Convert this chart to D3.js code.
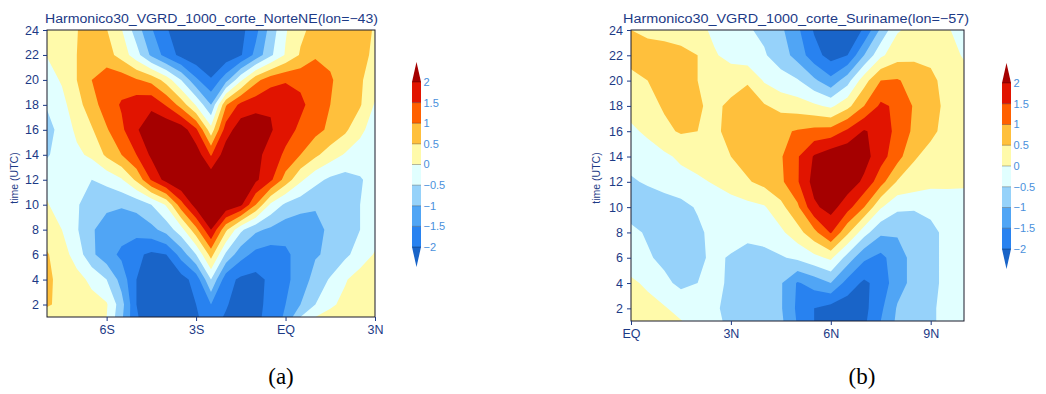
<!DOCTYPE html>
<html>
<head>
<meta charset="utf-8">
<script src="https://cdn.jsdelivr.net/npm/d3@7"></script>
<style>
  body { margin: 0; background: #ffffff; }
  svg { display: block; }
</style>
</head>
<body>
<svg id="chart" width="1046" height="394"></svg>
<script>
// Shading levels (m/s) and the colour of each band between them
const levels = [-2, -1.5, -1, -0.5, 0, 0.5, 1, 1.5, 2];
const levelLabels = ["\u22122", "\u22121.5", "\u22121", "\u22120.5", "0", "0.5", "1", "1.5", "2"];
const fills = ["#1964c8", "#2882f0", "#50a5f5", "#96d2fa", "#e1ffff",
               "#fffaaa", "#ffc03c", "#ff6000", "#e11400", "#a50000"];

// Time rows of the Hovmoller grids (UTC) and the axis ticks
const hours = [1, 2, 4, 6, 8, 10, 12, 14, 16, 18, 20, 22, 24];
const hourTicks = [2, 4, 6, 8, 10, 12, 14, 16, 18, 20, 22, 24];

// Latitude columns (degrees, negative = south)
const latsNorteNE = [-8, -7.5, -7, -6.5, -6, -5.5, -5, -4.5, -4, -3.5, -3, -2.5,
                     -2, -1.5, -1, -0.5, 0, 0.5, 1, 1.5, 2, 2.5, 3];
const latsSuriname = [0, 0.5, 1, 1.5, 2, 2.5, 3, 3.5, 4, 4.5, 5, 5.5,
                      6, 6.5, 7, 7.5, 8, 8.5, 9, 9.5, 10];

const latTicksNorteNE = [-6, -3, 0, 3];
const latLabelsNorteNE = ["6S", "3S", "EQ", "3N"];
const latTicksSuriname = [0, 3, 6, 9];
const latLabelsSuriname = ["EQ", "3N", "6N", "9N"];

// Harmonic of V wind at 1000 hPa, lon = -43 (one row per hour in `hours`)
const vgrdNorteNE = [
  [0.3, 0.35, 0.3, 0.2, 0.0, -0.9, -1.95, -2.3, -2.4, -2.3, -2.05, -1.8, -2.05, -2.3, -2.2, -1.7, -1.45, -0.5, 0.0, 0.2, 0.3, 0.35, 0.4],
  [0.55, 0.4, 0.3, 0.15, 0.05, -0.8, -2.0, -2.3, -2.4, -2.3, -2.0, -1.5, -1.95, -2.25, -2.2, -1.8, -1.5, -1.0, -0.5, -0.1, 0.15, 0.3, 0.4],
  [0.6, 0.35, 0.15, -0.1, -0.5, -1.2, -2.0, -2.3, -2.35, -2.2, -1.8, -0.5, -1.8, -2.1, -2.15, -1.9, -1.6, -1.3, -0.8, -0.45, -0.05, 0.25, 0.4],
  [0.55, 0.2, -0.2, -0.9, -1.3, -1.6, -1.9, -2.1, -2.0, -1.3, -0.5, 0.7, -0.6, -1.3, -1.65, -1.75, -1.6, -1.3, -1.05, -0.9, -0.6, -0.3, 0.05],
  [0.2, 0.0, -0.45, -0.95, -1.2, -1.3, -1.3, -1.15, -0.8, -0.2, 0.85, 2.0, 0.6, -0.4, -0.9, -1.1, -1.3, -1.35, -1.15, -0.9, -0.75, -0.5, -0.3],
  [0.05, -0.3, -0.45, -0.75, -0.9, -0.95, -0.85, -0.5, 0.05, 1.3, 2.25, 2.5, 2.45, 2.1, 1.0, -0.1, -0.6, -0.8, -0.95, -0.95, -0.85, -0.5, -0.35],
  [-0.2, -0.3, -0.4, -0.5, -0.35, -0.05, 0.6, 1.55, 2.2, 2.55, 2.6, 2.4, 2.5, 2.4, 2.1, 1.6, 0.8, 0.1, -0.35, -0.6, -0.7, -0.55, -0.3],
  [-0.55, -0.3, -0.1, 0.1, 0.6, 1.0, 1.5, 2.1, 2.5, 2.6, 2.3, 1.45, 2.3, 2.4, 2.15, 1.8, 1.4, 1.0, 0.6, 0.25, -0.05, -0.2, -0.3],
  [-0.7, -0.3, 0.1, 0.45, 0.95, 1.4, 1.95, 2.3, 2.45, 2.3, 1.6, 0.2, 1.75, 2.3, 2.3, 2.05, 1.7, 1.4, 1.15, 0.9, 0.6, 0.1, -0.2],
  [-0.45, -0.15, 0.3, 0.8, 1.25, 1.55, 1.8, 1.9, 1.45, 0.8, -0.05, -1.0, 0.95, 1.65, 1.85, 1.95, 1.85, 1.6, 1.3, 1.0, 0.75, 0.55, -0.05],
  [-0.2, 0.05, 0.5, 1.0, 1.3, 1.3, 1.05, 0.85, 0.3, -0.5, -1.4, -1.95, -1.2, -0.1, 0.85, 1.3, 1.45, 1.4, 1.25, 1.05, 0.8, 0.55, 0.3],
  [0.02, 0.3, 0.5, 0.8, 0.7, 0.3, -0.3, -1.1, -1.7, -2.15, -2.4, -2.5, -2.35, -2.05, -1.35, -0.6, 0.05, 0.55, 0.95, 0.9, 0.85, 0.65, 0.4],
  [0.25, 0.4, 0.48, 0.75, 0.52, 0.03, -0.75, -1.45, -1.95, -2.3, -2.5, -2.6, -2.45, -2.15, -1.65, -0.8, -0.05, 0.4, 0.65, 0.8, 0.85, 0.7, 0.45]
];

// Harmonic of V wind at 1000 hPa, lon = -57 (one row per hour in `hours`)
const vgrdSuriname = [
  [0.3, 0.2, 0.1, 0.02, -0.2, -0.4, -0.6, -0.75, -0.8, -0.9, -1.55, -2.0, -2.2, -2.25, -2.1, -1.5, -0.9, -0.7, -0.55, -0.4, -0.3],
  [0.3, 0.2, 0.05, -0.2, -0.35, -0.45, -0.6, -0.75, -0.8, -0.95, -1.6, -2.0, -2.2, -2.3, -2.15, -1.6, -0.95, -0.75, -0.55, -0.4, -0.3],
  [0.1, -0.1, -0.4, -0.6, -0.5, -0.35, -0.6, -0.75, -0.85, -0.95, -1.55, -1.3, -1.0, -1.7, -2.1, -1.8, -1.2, -0.85, -0.6, -0.4, -0.3],
  [-0.3, -0.45, -0.6, -0.75, -0.6, -0.4, -0.55, -0.7, -0.65, -0.55, -0.4, -0.15, 0.1, -0.7, -1.4, -1.65, -1.2, -0.85, -0.6, -0.4, -0.25],
  [-0.4, -0.55, -0.7, -0.75, -0.6, -0.35, -0.25, -0.35, -0.3, -0.1, 0.3, 0.85, 1.55, 0.6, -0.3, -0.9, -0.95, -0.8, -0.6, -0.4, -0.25],
  [-0.7, -0.75, -0.75, -0.65, -0.45, -0.35, -0.25, -0.15, -0.05, 0.35, 0.9, 1.9, 2.2, 1.7, 1.0, 0.05, -0.4, -0.45, -0.4, -0.25, -0.15],
  [-0.55, -0.45, -0.3, -0.2, -0.1, 0.05, 0.25, 0.45, 0.65, 0.9, 1.45, 2.2, 2.5, 2.3, 1.9, 1.2, 0.45, 0.3, 0.15, 0.1, 0.05],
  [-0.35, -0.25, -0.1, 0.1, 0.25, 0.35, 0.5, 0.7, 0.85, 0.95, 1.45, 2.05, 2.35, 2.45, 2.2, 1.7, 1.2, 0.55, 0.35, 0.25, 0.2],
  [-0.1, 0.1, 0.4, 0.55, 0.5, 0.4, 0.65, 0.8, 0.85, 0.9, 1.05, 1.15, 1.2, 1.6, 2.05, 1.8, 1.35, 0.9, 0.6, 0.35, 0.25],
  [0.2, 0.35, 0.55, 0.7, 0.55, 0.4, 0.6, 0.75, 0.55, 0.35, 0.25, 0.1, -0.1, 0.35, 1.0, 1.6, 1.4, 0.95, 0.65, 0.4, 0.25],
  [0.3, 0.5, 0.75, 0.7, 0.5, 0.3, 0.3, 0.45, -0.05, -0.3, -0.45, -0.9, -1.35, -0.7, 0.3, 1.0, 1.05, 0.8, 0.6, 0.35, 0.2],
  [0.75, 0.8, 0.75, 0.65, 0.5, 0.05, -0.15, -0.3, -0.45, -0.75, -1.2, -1.8, -2.2, -2.0, -1.0, -0.1, 0.3, 0.4, 0.4, 0.2, -0.05],
  [0.5, 0.35, 0.3, 0.25, 0.15, -0.1, -0.25, -0.45, -0.6, -0.9, -1.4, -2.05, -2.4, -2.3, -1.95, -0.9, -0.05, 0.15, 0.2, 0.05, -0.2]
];

const navy = "#1c3a86";
const cbText = "#4a90dc";
const sans = "'Liberation Sans', Arial, sans-serif";
const svg = d3.select("#chart");

function drawPanel(p) {
  const g = svg.append("g");
  const n = p.lats.length, m = hours.length;
  const x = d3.scaleLinear().domain(d3.extent(p.lats)).range([p.left, p.right]);
  const y = d3.scaleLinear().domain(d3.extent(hours)).range([p.bottom, p.top]);

  // grid index -> data coordinate (d3.contours puts samples at cell centres)
  const latAt = d3.scaleLinear().domain([0, n - 1]).range(d3.extent(p.lats)).clamp(true);
  const hourAt = d3.scaleLinear().domain(d3.range(m)).range(hours).clamp(true);
  const path = d3.geoPath(d3.geoTransform({
    point(gx, gy) { this.stream.point(x(latAt(gx - 0.5)), y(hourAt(gy - 0.5))); }
  }));
  const bands = d3.contours().size([n, m]).thresholds(levels)(p.values.flat());

  g.append("clipPath").attr("id", "clip-" + p.id)
    .append("rect")
    .attr("x", p.left).attr("y", p.top)
    .attr("width", p.right - p.left).attr("height", p.bottom - p.top);

  const field = g.append("g").attr("clip-path", `url(#clip-${p.id})`);
  field.append("rect")
    .attr("x", p.left).attr("y", p.top)
    .attr("width", p.right - p.left).attr("height", p.bottom - p.top)
    .attr("fill", fills[0]);
  field.selectAll("path.band").data(bands).join("path")
    .attr("class", "band")
    .attr("d", path)
    .attr("fill", (d, i) => fills[i + 1]);

  // frame
  g.append("rect")
    .attr("x", p.left).attr("y", p.top)
    .attr("width", p.right - p.left).attr("height", p.bottom - p.top)
    .attr("fill", "none").attr("stroke", "#1a1a2a").attr("stroke-width", 1);

  // axes
  const ay = g.append("g").attr("transform", `translate(${p.left},0)`)
    .call(d3.axisLeft(y).tickValues(hourTicks).tickSize(4).tickPadding(4));
  ay.select(".domain").remove();
  ay.attr("font-family", sans).attr("font-size", 12.5).attr("color", navy);

  const ax = g.append("g").attr("transform", `translate(0,${p.bottom})`)
    .call(d3.axisBottom(x).tickValues(p.xTicks).tickFormat((d, i) => p.xLabels[i])
      .tickSize(4).tickPadding(4));
  ax.select(".domain").remove();
  ax.attr("font-family", sans).attr("font-size", 12.5).attr("color", navy);

  // titles
  g.append("text")
    .attr("x", (p.titleX0 + p.titleX1) / 2).attr("y", 22.5)
    .attr("text-anchor", "middle")
    .attr("textLength", p.titleX1 - p.titleX0).attr("lengthAdjust", "spacingAndGlyphs")
    .attr("font-family", sans).attr("font-size", 12.5).attr("fill", navy)
    .text(p.title);

  g.append("text")
    .attr("transform", `translate(${p.ylabelX},178) rotate(-90)`)
    .attr("text-anchor", "middle").attr("dy", "0.35em")
    .attr("font-family", sans).attr("font-size", 10.5).attr("fill", navy)
    .text("time (UTC)");

  g.append("text")
    .attr("x", p.tagX).attr("y", 384)
    .attr("text-anchor", "middle")
    .attr("font-family", "'Liberation Serif', 'Times New Roman', serif")
    .attr("font-size", 23).attr("fill", "#000")
    .text(p.tag);

  drawColorbar(p.cb);
}

function drawColorbar(cb) {
  const g = svg.append("g");
  const s = d3.scaleLinear().domain(d3.extent(levels)).range([cb.bottom, cb.top]);
  const x0 = cb.x, x1 = cb.x + cb.w, xc = cb.x + cb.w / 2;
  const tip = 20;

  g.selectAll("rect.seg").data(d3.pairs(levels)).join("rect")
    .attr("class", "seg")
    .attr("x", x0).attr("width", cb.w)
    .attr("y", d => s(d[1])).attr("height", d => s(d[0]) - s(d[1]))
    .attr("fill", (d, i) => fills[i + 1]);

  const top = s(levels[levels.length - 1]), bot = s(levels[0]);
  g.append("path")
    .attr("d", `M${x0},${top}L${x1},${top}L${xc},${top - tip}Z`)
    .attr("fill", fills[fills.length - 1]);
  g.append("path")
    .attr("d", `M${x0},${bot}L${x1},${bot}L${xc},${bot + tip}Z`)
    .attr("fill", fills[0]);

  g.selectAll("line.sep").data(levels).join("line")
    .attr("class", "sep")
    .attr("x1", x0).attr("x2", x1)
    .attr("y1", d => s(d)).attr("y2", d => s(d))
    .attr("stroke", "rgba(0,0,0,0.28)").attr("stroke-width", 1);

  g.selectAll("text").data(levels).join("text")
    .attr("x", x1 + 2.5).attr("y", d => s(d)).attr("dy", "0.36em")
    .attr("font-family", sans).attr("font-size", 11).attr("fill", cbText)
    .text((d, i) => levelLabels[i]);
}

drawPanel({
  id: "a", lats: latsNorteNE, values: vgrdNorteNE,
  left: 47, right: 375, top: 30, bottom: 317,
  xTicks: latTicksNorteNE, xLabels: latLabelsNorteNE,
  title: "Harmonico30_VGRD_1000_corte_NorteNE(lon=\u221243)", titleX0: 45, titleX1: 378,
  ylabelX: 14, tag: "(a)", tagX: 281,
  cb: { x: 412, w: 9, top: 82, bottom: 247 }
});

drawPanel({
  id: "b", lats: latsSuriname, values: vgrdSuriname,
  left: 631, right: 964, top: 30, bottom: 321,
  xTicks: latTicksSuriname, xLabels: latLabelsSuriname,
  title: "Harmonico30_VGRD_1000_corte_Suriname(lon=\u221257)", titleX0: 623, titleX1: 969,
  ylabelX: 596, tag: "(b)", tagX: 862,
  cb: { x: 1002, w: 9, top: 83, bottom: 249 }
});
</script>
</body>
</html>
